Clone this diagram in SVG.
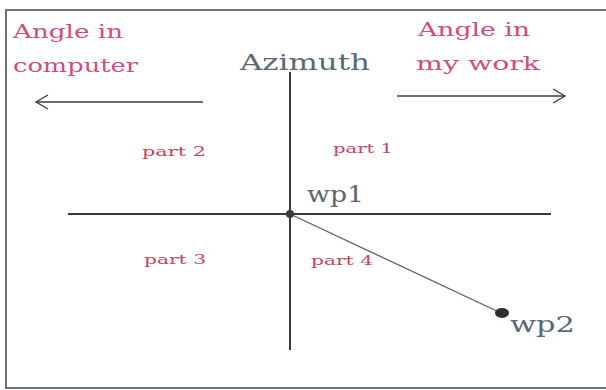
<svg xmlns="http://www.w3.org/2000/svg" width="606" height="390" viewBox="0 0 606 390">
  <style>
    .frame { fill: #ffffff; stroke: #6d7178; stroke-width: 2; }
    .axis { stroke: #3a3a3a; stroke-width: 2; fill: none; }
    .arrow { stroke: #3c3c3c; stroke-width: 1.3; fill: none; }
    .path { stroke: #6a5a5e; stroke-width: 1.3; fill: none; }
    .pink { font-family: "DejaVu Serif", "Liberation Serif", serif; fill: #d24a83; }
    .gray { font-family: "DejaVu Serif", "Liberation Serif", serif; fill: #5b6878; }
    .part { font-family: "DejaVu Serif", "Liberation Serif", serif; fill: #c8445e; font-size: 13px; }
  </style>
  <defs>
    <marker id="open" markerWidth="16" markerHeight="16" refX="14" refY="8" orient="auto" markerUnits="userSpaceOnUse">
      <path d="M2,1 L14,8 L2,15" fill="none" stroke="#3c3c3c" stroke-width="1.3"/>
    </marker>
  </defs>

  <rect class="frame" x="6" y="10" width="605" height="378"/>

  <g id="axes">
    <line class="axis" x1="290" y1="72" x2="290" y2="350"/>
    <line class="axis" x1="68" y1="214" x2="551" y2="214"/>
  </g>

  <g id="connectors">
    <line class="arrow" x1="203" y1="102" x2="36" y2="102" marker-end="url(#open)"/>
    <line class="arrow" x1="397" y1="96" x2="565" y2="96" marker-end="url(#open)"/>
    <line class="path" x1="290" y1="214" x2="501" y2="313"/>
  </g>

  <g id="label-computer">
    <text class="pink" x="13" y="38" font-size="19" textLength="110" lengthAdjust="spacingAndGlyphs">Angle in</text>
    <text class="pink" x="13" y="72" font-size="19" textLength="125" lengthAdjust="spacingAndGlyphs">computer</text>
  </g>

  <g id="label-azimuth">
    <text class="gray" x="240" y="70" font-size="22" textLength="130" lengthAdjust="spacingAndGlyphs">Azimuth</text>
  </g>

  <g id="label-mywork">
    <text class="pink" x="418" y="36" font-size="19" textLength="112" lengthAdjust="spacingAndGlyphs">Angle in</text>
    <text class="pink" x="416" y="70" font-size="19" textLength="124" lengthAdjust="spacingAndGlyphs">my work</text>
  </g>

  <g id="parts">
    <text class="part" x="142" y="156" textLength="64" lengthAdjust="spacingAndGlyphs">part 2</text>
    <text class="part" x="333" y="153" textLength="60" lengthAdjust="spacingAndGlyphs">part 1</text>
    <text class="part" x="144" y="264" textLength="62" lengthAdjust="spacingAndGlyphs">part 3</text>
    <text class="part" x="311" y="265" textLength="62" lengthAdjust="spacingAndGlyphs">part 4</text>
  </g>

  <g id="wp1">
    <circle cx="290" cy="214" r="4" fill="#3a3a3a"/>
    <text class="gray" x="307" y="202" font-size="22" textLength="57" lengthAdjust="spacingAndGlyphs">wp1</text>
  </g>

  <g id="wp2">
    <ellipse cx="502" cy="313" rx="7" ry="5" fill="#2e2e2e"/>
    <text class="gray" x="510" y="332" font-size="22" textLength="65" lengthAdjust="spacingAndGlyphs">wp2</text>
  </g>
</svg>
